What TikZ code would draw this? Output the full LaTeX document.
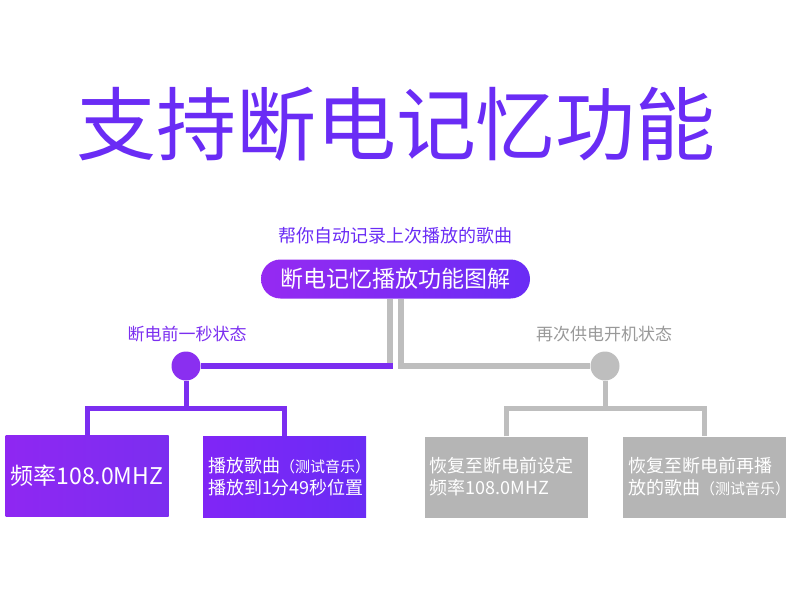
\documentclass[tikz,border=0pt]{standalone}
\usepackage{fontspec}
\setmainfont{Noto Sans CJK SC}
\definecolor{zi}{HTML}{6A2CF5}
\definecolor{zixian}{HTML}{7B2EF0}
\definecolor{zidian}{HTML}{8A2FF0}
\definecolor{hui}{HTML}{B5B5B5}
\definecolor{huixian}{HTML}{BEBEBE}
\definecolor{huizi}{HTML}{999999}
\newcommand{\zh}[1]{\fontsize{#1}{#1}\selectfont}
\newcommand{\xiao}[1]{{\zh{15}#1}}

\begin{document}
\begin{tikzpicture}[x=1pt, y=-1pt,
  every node/.style = {inner sep=0pt},
  pill/.style = {shape=rectangle, rounded corners=19.5pt,
    minimum width=269pt, minimum height=39pt, text=white,
    left color=zidian!90!magenta, right color=zi},
  box/.style = {shape=rectangle, minimum width=163pt, minimum height=81pt,
    text width=153pt, align=left, text=white},
  zibox/.style = {box, left color=#1!85!magenta, right color=#1},
  huibox/.style = {box, fill=hui},
  dot/.style = {circle, minimum size=29pt},
  zitree/.style = {draw=zixian, line width=5pt},
  huitree/.style = {draw=huixian, line width=5pt}
]
  \useasboundingbox (0,0) rectangle (790,610);

  % title
  \node[text=zi, font=\zh{80}] (biaoti) at (396,124) {支持断电记忆功能};
  \node[text=zi, font=\zh{18}] (fubiaoti) at (395,236) {帮你自动记录上次播放的歌曲};
  \node[pill, font=\zh{23}] (tu) at (395.5,279) {断电记忆播放功能图解};

  % two states
  \node[dot, fill=zidian] (zd) at (186,366) {};
  \node[dot, fill=huixian] (hd) at (605,366) {};
  \node[text=zixian, font=\zh{17}] (zl) at (187,334) {断电前一秒状态};
  \node[text=huizi, font=\zh{17}] (hl) at (604,334) {再次供电开机状态};

  % boxes
  \node[zibox=zixian, font=\zh{23}] (z1) at (87,475.5) {频率108.0MHZ};
  \node[zibox=zi, font=\zh{18}] (z2) at (284.5,477)
    {播放歌曲\xiao{（测试音乐）}\\[4pt]播放到1分49秒位置};
  \node[huibox, font=\zh{18}] (h1) at (506,477)
    {恢复至断电前设定\\[4pt]频率108.0MHZ};
  \node[huibox, font=\zh{18}] (h2) at (704.5,477)
    {恢复至断电前再播\\[4pt]放的歌曲\xiao{（测试音乐）}};

  % connectors
  \coordinate (zb) at (390,299);
  \coordinate (hb) at (401,299);
  \coordinate (zj) at (393,366);
  \coordinate (zf) at (186,408.5);
  \coordinate (hf) at (605,408.5);
  \draw[draw=huixian, line width=6pt] (zb) -- (zb |- zj);
  \draw[draw=zixian, line width=6pt] (zd) -- (zj);
  \draw[draw=huixian, line width=6pt] (hb) |- (hd.west);
  \draw[zitree] (zd.south) -- (zf);
  \draw[zitree] (z1.north) |- (zf) -| (z2.north);
  \draw[huitree] (hd.south) -- (hf);
  \draw[huitree] (h1.north) |- (hf) -| (h2.north);

\end{tikzpicture}
\end{document}
